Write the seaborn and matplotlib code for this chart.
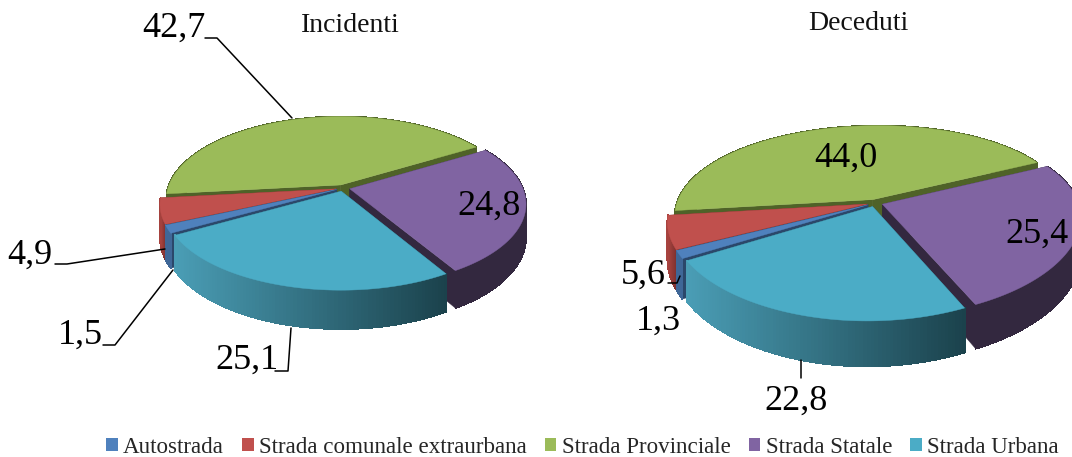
# plot.py - due torte 3D (Incidenti / Deceduti) per tipo di strada
import numpy as np
import matplotlib
matplotlib.use("Agg")
import matplotlib.pyplot as plt
import seaborn as sns
from matplotlib.collections import PolyCollection
from matplotlib.patches import Patch

categories = ["Autostrada", "Strada comunale extraurbana", "Strada Provinciale",
              "Strada Statale", "Strada Urbana"]
incidenti = [1.5, 4.9, 42.7, 24.8, 25.1]
deceduti = [1.3, 5.6, 44.0, 25.4, 22.8]

sns.set_theme(style="white")
plt.rcParams["font.family"] = ["Liberation Serif", "DejaVu Serif"]

colors = sns.color_palette(["#4F81BD", "#C0504D", "#9BBB59", "#8064A2", "#4BACC6"])
# colore della parete esterna (sinistra -> destra) e delle pareti radiali
wall_grad = [("#3F6797", "#3F6797"), ("#A8433F", "#7A2F2D"), ("#4F6228", "#4F6228"),
             ("#33283F", "#33283F"), ("#4A9DB5", "#1B424C")]
wall_dark = ["#2B476A", "#6E2D2B", "#4F6228", "#33283F", "#1F4A55"]
draw_order = [2, 3, 1, 0, 4]  # dal fondo verso l'osservatore


def project(u, v, g):
    # prospettiva: i punti vicini (v<0) sono piu' grandi
    s = 1 / (1 + g["k"] * v)
    sx = 1 / (1 + g["kx"] * v)
    return g["cx"] + g["rx"] * u * sx + g["shear"] * v, g["cy"] - g["ry"] * v * s, g["depth"] * s


def draw_pie(ax, values, g):
    vals = np.array(values, dtype=float)
    sweep = vals / vals.sum() * 360
    ends = g["start"] - np.cumsum(sweep)
    starts = ends + sweep
    for i in draw_order:
        t = np.radians(np.linspace(starts[i], ends[i], 90))
        mid = np.radians((starts[i] + ends[i]) / 2)
        ox, oy = g["explode"] * np.cos(mid), g["explode"] * np.sin(mid)
        x, y, d = project(np.cos(t) + ox, np.sin(t) + oy, g)
        ax0, ay0, ad = project(ox, oy, g)

        # pareti radiali
        for j in (0, -1):
            quad = [(ax0, ay0), (x[j], y[j]), (x[j], y[j] + d[j]), (ax0, ay0 + ad)]
            ax.add_patch(plt.Polygon(quad, color=wall_dark[i], lw=0.3))

        # parete esterna, sfumata segmento per segmento
        pal = sns.blend_palette(wall_grad[i], 256)
        quads, cols = [], []
        for j in range(len(t) - 1):
            quads.append([(x[j], y[j]), (x[j + 1], y[j + 1]),
                          (x[j + 1], y[j + 1] + d[j + 1]), (x[j], y[j] + d[j])])
            pos = (x[j] - x.min()) / (x.max() - x.min())
            cols.append(pal[int(pos * 255)])
        ax.add_collection(PolyCollection(quads, facecolors=cols, edgecolors=cols,
                                         linewidths=0.6, antialiaseds=False))

        # faccia superiore
        top = np.column_stack([np.r_[ax0, x], np.r_[ay0, y]])
        ax.add_patch(plt.Polygon(top, color=colors[i], lw=0.3))


def fmt(v):
    return f"{v:.1f}".replace(".", ",")


fig = plt.figure(figsize=(10.72, 4.57), dpi=100)
ax = fig.add_axes([0, 0, 1, 1])
ax.set_xlim(0, 1072)
ax.set_ylim(457, 0)
ax.axis("off")

draw_pie(ax, incidenti, dict(cx=343, cy=188, rx=173, ry=81, k=0.17, kx=0.176, shear=0,
                             depth=32, start=209.5, explode=0.04))
draw_pie(ax, deceduti, dict(cx=875, cy=203, rx=196, ry=90, k=0.2, kx=0.16, shear=5,
                            depth=36, start=212, explode=0.04))

ax.text(350, 25, "Incidenti", ha="center", va="center", fontsize=20, color="#111111")
ax.text(858, 23, "Deceduti", ha="center", va="center", fontsize=20, color="#111111")

label_pos_inc = [(80, 335), (30, 255), (174, 28), (489, 206), (247, 360)]
label_pos_dec = [(658, 321), (643, 275), (846, 158), (1037, 234), (796, 401)]
for vals, pos in ((incidenti, label_pos_inc), (deceduti, label_pos_dec)):
    for v, (px, py) in zip(vals, pos):
        ax.text(px, py, fmt(v), ha="center", va="center", fontsize=26, color="black")

leaders = [
    [(205, 38), (217, 38), (292, 118)],
    [(55, 264), (67, 264), (165, 249)],
    [(103, 345), (115, 345), (173, 270)],
    [(275, 371), (288, 371), (291, 328)],
    [(668, 283), (677, 283), (680, 276)],
    [(801, 360), (801, 378)],
]
for line in leaders:
    xs, ys = zip(*line)
    ax.plot(xs, ys, color="black", lw=1.1)

handles = [Patch(facecolor=c, edgecolor="none") for c in colors]
ax.legend(handles, categories, ncol=5, frameon=False, loc="center right",
          bbox_to_anchor=(1059 / 1072, 1 - 447.5 / 457), fontsize=16.6,
          handlelength=0.5, handleheight=0.5, handletextpad=0.235, columnspacing=0.785,
          borderpad=0, borderaxespad=0)

fig.savefig("out.png", dpi=100, facecolor="white")
